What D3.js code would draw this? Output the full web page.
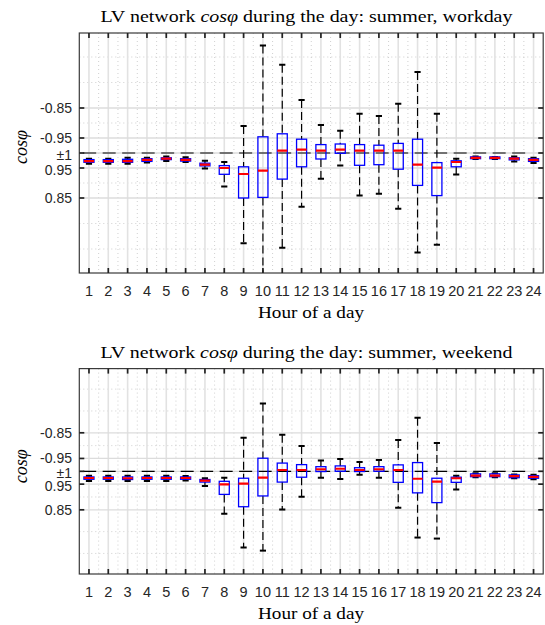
<!DOCTYPE html>
<html><head><meta charset="utf-8">
<script src="https://cdn.jsdelivr.net/npm/d3@7/dist/d3.min.js"></script>
<style>body{margin:0;background:#fff}svg{display:block}</style>
</head><body><svg id="c" width="545" height="625"></svg>
<script>
// ---------- data ----------
const hourLabels = ["1","2","3","4","5","6","7","8","9","10","11","12","13","14","15","16","17","18","19","20","21","22","23","24"];
const yTickValues = [-0.85, -0.95, 1, 0.95, 0.85];
const yTickLabels = ["-0.85", "-0.95", "\u00b11", "0.95", "0.85"];
const minorGridValues = [-0.68, -0.765, -0.9, 0.9, 0.765, 0.68];

// workday (cos phi; negative = leading). Order on screen: top whisker, box top, median, box bottom, bottom whisker
const wdWhiskerTop = [0.981,0.981,0.984,0.984,0.988,0.986,0.974,0.970,-0.910,-0.642,-0.706,-0.823,-0.907,-0.926,-0.869,-0.877,-0.836,-0.730,-0.869,0.981,0.988,0.987,0.988,0.984];
const wdBoxTop     = [0.978,0.978,0.979,0.981,0.984,0.981,0.966,0.958,0.954,-0.946,-0.936,-0.954,-0.972,-0.970,-0.972,-0.974,-0.968,-0.954,0.968,0.974,0.987,0.987,0.984,0.981];
const wdMedian     = [0.973,0.973,0.973,0.977,0.981,0.977,0.961,0.950,0.930,0.941,-0.992,-0.989,-0.992,-0.989,-0.992,-0.992,-0.992,0.961,0.951,0.970,0.984,0.984,0.981,0.977];
const wdBoxBottom  = [0.969,0.969,0.969,0.972,0.978,0.973,0.957,0.929,0.850,0.852,0.913,0.954,0.980,0.999,0.959,0.961,0.946,0.892,0.858,0.954,0.981,0.981,0.977,0.972];
const wdWhiskerBot = [0.964,0.964,0.964,0.968,0.973,0.970,0.948,0.888,0.699,0.550,0.684,0.821,0.914,0.958,0.858,0.864,0.814,0.668,0.694,0.928,0.980,0.980,0.972,0.967];

// weekend
const weWhiskerTop = [0.983,0.983,0.983,0.983,0.983,0.982,0.973,0.975,-0.869,-0.736,-0.858,-0.901,-0.958,-0.952,-0.964,-0.956,-0.878,-0.791,-0.890,0.983,0.992,0.992,0.988,0.987];
const weBoxTop     = [0.978,0.978,0.978,0.978,0.978,0.978,0.968,0.961,0.973,-0.949,-0.968,-0.974,-0.982,-0.979,-0.986,-0.982,-0.975,-0.966,0.973,0.977,0.990,0.990,0.986,0.983];
const weMedian     = [0.974,0.974,0.973,0.974,0.974,0.974,0.964,0.949,0.952,0.975,-0.995,-0.995,-0.992,-0.990,-0.995,-0.992,-0.995,0.971,0.960,0.973,0.983,0.983,0.981,0.978];
const weBoxBottom  = [0.969,0.969,0.968,0.969,0.969,0.969,0.958,0.910,0.862,0.904,0.958,0.977,0.999,1.000,0.999,1.000,0.957,0.916,0.878,0.957,0.979,0.979,0.975,0.973];
const weWhiskerBot = [0.962,0.962,0.962,0.962,0.962,0.964,0.943,0.835,0.703,0.691,0.851,0.901,0.975,0.970,0.987,0.975,0.858,0.742,0.738,0.929,0.977,0.977,0.973,0.969];

// ---------- drawing ----------
const svg = d3.select("#c");
const SERIF = "'Liberation Serif','Times New Roman',serif";
const SANS = "'Liberation Sans',Arial,sans-serif";
// map cos phi to distance from unity (negative side = leading)
const tr = c => c < 0 ? -(1 + c) : 1 - c;

function panel(cfg, d, idx) {
  const x = d3.scaleLinear().domain([0.5, 24.5]).range([79.3, 543.2]);
  const y = d3.scaleLinear().domain([-0.4, 0.4]).range([cfg.top, cfg.bottom]);
  const Y = c => y(tr(c));
  const step = x(2) - x(1);
  const g = svg.append("g");
  const clipId = "clip" + idx;
  g.append("clipPath").attr("id", clipId).append("rect")
    .attr("x", x(0.5)).attr("y", cfg.top).attr("width", x(24.5) - x(0.5)).attr("height", cfg.bottom - cfg.top);

  const grid = g.append("g");
  d3.range(1, 24).forEach(i => {
    grid.append("line").attr("x1", x(i + 0.5)).attr("x2", x(i + 0.5)).attr("y1", cfg.top).attr("y2", cfg.bottom)
      .attr("stroke", "#c4c4c4").attr("stroke-width", 0.8).attr("stroke-dasharray", "1,3");
  });
  minorGridValues.forEach(v => {
    grid.append("line").attr("x1", x(0.5)).attr("x2", x(24.5)).attr("y1", Y(v)).attr("y2", Y(v))
      .attr("stroke", "#c4c4c4").attr("stroke-width", 0.8).attr("stroke-dasharray", "1,3");
  });
  hourLabels.forEach((h, i) => {
    grid.append("line").attr("x1", x(i + 1)).attr("x2", x(i + 1)).attr("y1", cfg.top).attr("y2", cfg.bottom)
      .attr("stroke", "#e2e2e2").attr("stroke-width", 1.6);
  });
  yTickValues.forEach(v => {
    grid.append("line").attr("x1", x(0.5)).attr("x2", x(24.5)).attr("y1", Y(v)).attr("y2", Y(v))
      .attr("stroke", "#dcdcdc").attr("stroke-width", 1.3);
  });

  const plot = g.append("g").attr("clip-path", `url(#${clipId})`);
  plot.append("line").attr("x1", x(0.7)).attr("x2", x(23.68)).attr("y1", Y(1)).attr("y2", Y(1))
    .attr("stroke", "#000").attr("stroke-width", 1.2).attr("stroke-dasharray", "13,6.5");

  const bw = 0.52 * step, cw = 0.32 * step;
  hourLabels.forEach((h, i) => {
    const cx = x(i + 1);
    plot.append("line").attr("x1", cx).attr("x2", cx).attr("y1", Y(d.wTop[i])).attr("y2", Y(d.bTop[i]))
      .attr("stroke", "#000").attr("stroke-width", 1.2).attr("stroke-dasharray", "8,4");
    plot.append("line").attr("x1", cx).attr("x2", cx).attr("y1", Y(d.bBot[i])).attr("y2", Y(d.wBot[i]))
      .attr("stroke", "#000").attr("stroke-width", 1.2).attr("stroke-dasharray", "8,4");
    [d.wTop[i], d.wBot[i]].forEach(v => {
      plot.append("line").attr("x1", cx - cw / 2).attr("x2", cx + cw / 2).attr("y1", Y(v)).attr("y2", Y(v))
        .attr("stroke", "#000").attr("stroke-width", 2);
    });
    const yt = Y(d.bTop[i]), yb = Y(d.bBot[i]);
    plot.append("rect").attr("x", cx - bw / 2).attr("y", yt).attr("width", bw).attr("height", Math.max(yb - yt, 0.5))
      .attr("fill", "none").attr("stroke", "#0000ff").attr("stroke-width", 1.3);
    plot.append("line").attr("x1", cx - bw / 2).attr("x2", cx + bw / 2).attr("y1", Y(d.med[i])).attr("y2", Y(d.med[i]))
      .attr("stroke", "#ff0000").attr("stroke-width", 2.2);
  });

  g.append("rect").attr("x", x(0.5)).attr("y", cfg.top).attr("width", x(24.5) - x(0.5)).attr("height", cfg.bottom - cfg.top)
    .attr("fill", "none").attr("stroke", "#3a3a3a").attr("stroke-width", 1.2);
  const tl = 5;
  hourLabels.forEach((h, i) => {
    const cx = x(i + 1);
    g.append("line").attr("x1", cx).attr("x2", cx).attr("y1", cfg.top).attr("y2", cfg.top + tl).attr("stroke", "#222").attr("stroke-width", 1.7);
    g.append("line").attr("x1", cx).attr("x2", cx).attr("y1", cfg.bottom).attr("y2", cfg.bottom - tl).attr("stroke", "#222").attr("stroke-width", 1.7);
    g.append("text").attr("x", cx).attr("y", cfg.bottom + 23).attr("text-anchor", "middle")
      .attr("font-family", SANS).attr("font-size", 14.5).attr("fill", "#262626").text(h);
  });
  yTickValues.forEach((v, k) => {
    const yy = Y(v);
    g.append("line").attr("x1", x(0.5)).attr("x2", x(0.5) + tl).attr("y1", yy).attr("y2", yy).attr("stroke", "#222").attr("stroke-width", 1.7);
    g.append("line").attr("x1", x(24.5)).attr("x2", x(24.5) - tl).attr("y1", yy).attr("y2", yy).attr("stroke", "#222").attr("stroke-width", 1.7);
    const off = v === 1 ? 1.5 : (v === 0.95 ? 1.5 : 0);
    g.append("text").attr("x", 72).attr("y", yy + off + 5).attr("text-anchor", "end")
      .attr("font-family", SANS).attr("font-size", 14).attr("fill", "#262626").text(yTickLabels[k]);
  });

  const t = g.append("text").attr("x", 306.5).attr("y", cfg.top - 11).attr("text-anchor", "middle")
    .attr("font-family", SERIF).attr("font-size", 17.5).attr("fill", "#000")
    .attr("textLength", 412).attr("lengthAdjust", "spacingAndGlyphs");
  t.append("tspan").text("LV network ");
  t.append("tspan").attr("font-style", "italic").text("cos\u03c6");
  t.append("tspan").text(" during the day: " + cfg.title);
  g.append("text").attr("x", 311).attr("y", cfg.bottom + 45).attr("text-anchor", "middle")
    .attr("font-family", SERIF).attr("font-size", 17.5).attr("fill", "#000")
    .attr("textLength", 106).attr("lengthAdjust", "spacingAndGlyphs").text("Hour of a day");
  const ym = y(-0.02);
  g.append("text").attr("transform", `translate(27,${ym}) rotate(-90)`).attr("text-anchor", "middle")
    .attr("font-family", SERIF).attr("font-style", "italic").attr("font-size", 18).attr("fill", "#000").text("cos\u03c6");
}

panel({ title: "summer, workday", top: 33, bottom: 273 },
  { wTop: wdWhiskerTop, bTop: wdBoxTop, med: wdMedian, bBot: wdBoxBottom, wBot: wdWhiskerBot }, 0);
panel({ title: "summer, weekend", top: 368.6, bottom: 574 },
  { wTop: weWhiskerTop, bTop: weBoxTop, med: weMedian, bBot: weBoxBottom, wBot: weWhiskerBot }, 1);
</script></body></html>
